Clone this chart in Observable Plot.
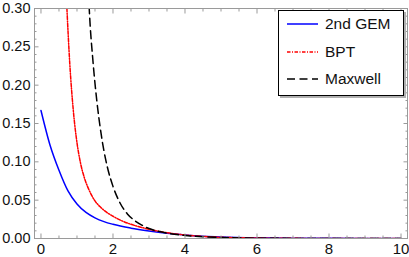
<!DOCTYPE html>
<html><head><meta charset="utf-8">
<script src="https://cdn.jsdelivr.net/npm/d3@7"></script>
<script src="https://cdn.jsdelivr.net/npm/@observablehq/plot@0.6"></script>
<style>
body{margin:0;background:#fff;font-family:"Liberation Sans",Arial,sans-serif;}
#wrap{position:relative;width:409px;height:257px;}
#legend{position:absolute;left:278px;top:10px;width:124px;height:84px;border:1px solid #000;background:#fff;box-shadow:2px 2px 0 #b0b0b0;font-size:15.5px;color:#111;}
.row{position:absolute;left:8px;height:20px;display:flex;align-items:center;}
.row svg{margin-right:7px}
</style></head>
<body><div id="wrap"><div id="legend"></div></div>
<script>
const seriesNames = ["2nd GEM", "BPT", "Maxwell"];
const seriesColors = ["#0000ff", "#ff0000", "#000000"];
const seriesDash = [null, "3.5,1.5,1,1.5", "8,4.5"];

const gemX = [0, 0.25, 0.5, 0.75, 1.0, 1.25, 1.5, 1.75, 2.0, 2.5, 3.0, 3.5, 4.0, 4.5, 5.0, 6.0, 7.0, 8.0, 10.0];
const gemY = [0.167, 0.122, 0.089, 0.062, 0.045, 0.034, 0.027, 0.022, 0.0185, 0.0135, 0.0098, 0.0068, 0.0046, 0.003, 0.002, 0.0009, 0.0004, 0.0002, 0.00005];

const bptX = [0.7, 0.72, 0.8, 0.9, 1.0, 1.1, 1.2, 1.3, 1.4, 1.5, 1.65, 1.8, 2.0, 2.25, 2.5, 2.75, 3.0, 3.5, 4.0, 4.5, 5.0, 6.0, 7.0, 8.0, 10.0];
const bptY = [0.32, 0.30, 0.228, 0.166, 0.125, 0.098, 0.080, 0.067, 0.057, 0.049, 0.041, 0.035, 0.029, 0.023, 0.0185, 0.015, 0.012, 0.0075, 0.0045, 0.0027, 0.0016, 0.0006, 0.0002, 0.0001, 0.0];

const maxX = [1.32, 1.34, 1.45, 1.55, 1.65, 1.75, 1.85, 2.0, 2.2, 2.4, 2.6, 2.8, 3.0, 3.25, 3.5, 4.0, 4.5, 5.0, 6.0, 7.0, 8.0, 10.0];
const maxY = [0.32, 0.30, 0.228, 0.180, 0.143, 0.114, 0.092, 0.068, 0.046, 0.032, 0.0235, 0.0175, 0.013, 0.0095, 0.007, 0.004, 0.0023, 0.0013, 0.0004, 0.00015, 0.00005, 0.0];

const xTicks = [0, 2, 4, 6, 8, 10];
const xMinor = [0.5, 1, 1.5, 2.5, 3, 3.5, 4.5, 5, 5.5, 6.5, 7, 7.5, 8.5, 9, 9.5];
const yTicks = [0, 0.05, 0.10, 0.15, 0.20, 0.25, 0.30];
const yMinor = [0.01,0.02,0.03,0.04,0.06,0.07,0.08,0.09,0.11,0.12,0.13,0.14,0.16,0.17,0.18,0.19,0.21,0.22,0.23,0.24,0.26,0.27,0.28,0.29];

const toRows = (xs, ys) => xs.map((x, i) => ({x, y: ys[i]}));
const series = [toRows(gemX, gemY), toRows(bptX, bptY), toRows(maxX, maxY)];

const frameColor = "#9a9a9a";
const lines = series.map((d, i) => Plot.line(d, {x: "x", y: "y", stroke: seriesColors[i], strokeWidth: 1.5, strokeDasharray: seriesDash[i], curve: "monotone-x", clip: true}));

const tickAxes = [];
for (const anchor of ["bottom", "top"]) {
  tickAxes.push(Plot.axisX(xTicks, {anchor, tickSize: -4.5, stroke: frameColor, fill: "none", label: null}));
  tickAxes.push(Plot.axisX(xMinor, {anchor, tickSize: -2.5, stroke: frameColor, fill: "none", label: null}));
}
for (const anchor of ["left", "right"]) {
  tickAxes.push(Plot.axisY(yTicks, {anchor, tickSize: -4.5, stroke: frameColor, fill: "none", label: null}));
  tickAxes.push(Plot.axisY(yMinor, {anchor, tickSize: -2.5, stroke: frameColor, fill: "none", label: null}));
}

const chart = Plot.plot({
  width: 409, height: 257,
  marginLeft: 34, marginRight: 2, marginTop: 8, marginBottom: 19,
  style: {fontFamily: '"Liberation Sans", Arial, sans-serif', fontSize: "14.5px", background: "white"},
  x: {domain: [-0.18, 10.18]},
  y: {domain: [0, 0.30]},
  marks: [
    ...lines,
    Plot.frame({stroke: frameColor}),
    ...tickAxes,
    Plot.axisX(xTicks, {anchor: "bottom", tickSize: 0, tickPadding: 5, stroke: "none", fill: "#111", fontSize: 15, label: null, tickFormat: d => String(d)}),
    Plot.axisY(yTicks, {anchor: "left", tickSize: 0, tickPadding: 4, stroke: "none", fill: "#111", fontSize: 14.5, label: null, tickFormat: d3.format(".2f")})
  ]
});
document.getElementById("wrap").prepend(chart);

const legend = document.getElementById("legend");
seriesNames.forEach((name, i) => {
  const row = document.createElement("div");
  row.className = "row";
  row.style.top = (3 + i * 27.5) + "px";
  const dash = seriesDash[i] ? `stroke-dasharray="${seriesDash[i]}"` : "";
  row.innerHTML = `<svg width="31" height="4"><line x1="0" y1="2" x2="31" y2="2" stroke="${seriesColors[i]}" stroke-width="1.5" ${dash}/></svg><span>${name}</span>`;
  legend.appendChild(row);
});
</script></body></html>
